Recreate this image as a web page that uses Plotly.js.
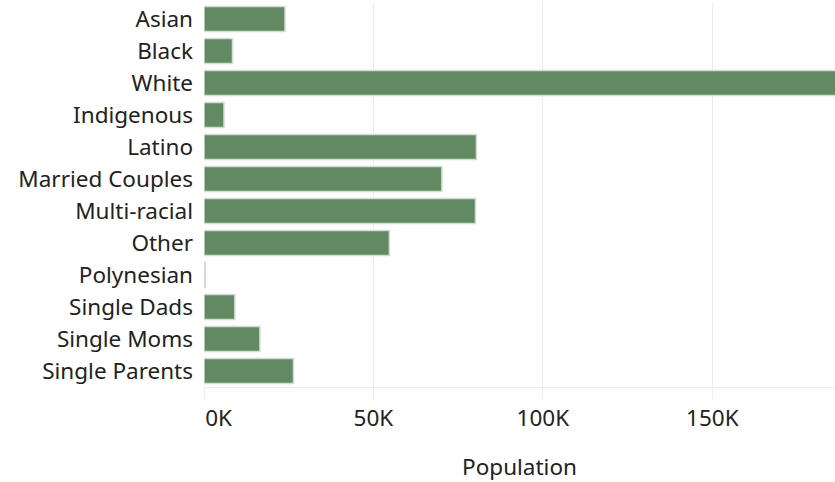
<!DOCTYPE html>
<html>
<head>
<meta charset="utf-8">
<script src="https://cdn.plot.ly/plotly-3.0.1.min.js"></script>
<style>
html,body{margin:0;padding:0;background:#fff;}
#chart{width:835px;height:482px;}
</style>
</head>
<body>
<div id="chart"></div>
<script>
const categories = ["Asian","Black","White","Indigenous","Latino","Married Couples","Multi-racial","Other","Polynesian","Single Dads","Single Moms","Single Parents"];
const population = [23900, 8400, 199000, 5900, 80400, 70200, 80100, 54700, 400, 9100, 16500, 26400];
const tickVals = [0, 50000, 100000, 150000];
const tickText = ["0K","50K","100K","150K"];

// first label sits inside the plot edge (as in the reference)
const shownTickText = tickText.map((t, i) => i === 0 ? "\u00a0\u00a0\u00a0\u00a0\u00a0" + t : t);

const trace = {
  type: "bar",
  orientation: "h",
  y: categories,
  x: population,
  marker: {color: "#618a63", line: {color: "#d3dbd3", width: 1.5}},
  width: 0.78,
  hoverinfo: "x+y"
};

const layout = {
  width: 835, height: 482,
  margin: {l: 204, r: 0, t: 3, b: 95},
  paper_bgcolor: "#fff", plot_bgcolor: "#fff",
  showlegend: false,
  font: {family: "Noto Sans, sans-serif", color: "#222"},
  xaxis: {
    range: [0, 186200],
    tickvals: tickVals, ticktext: shownTickText,
    showgrid: true, gridcolor: "#ececec", gridwidth: 1,
    zeroline: false,
    showline: true, linecolor: "#ececec", linewidth: 1,
    ticks: "outside", ticklen: 11, tickcolor: "#ececec",
    tickfont: {size: 22.5, color: "#222"},
    title: {text: "Population", font: {size: 22.5, color: "#222"}, standoff: 27}
  },
  yaxis: {
    autorange: "reversed",
    type: "category",
    showgrid: false, zeroline: false, showline: false,
    ticks: "", ticklabelstandoff: 10,
    tickfont: {size: 22.5, color: "#222"}
  }
};

Plotly.newPlot("chart", [trace], layout, {displayModeBar: false, staticPlot: true});
</script>
</body>
</html>
